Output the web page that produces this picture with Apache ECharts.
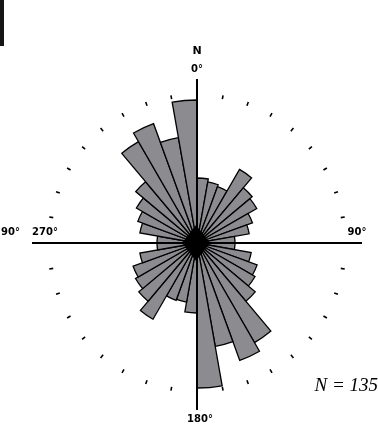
<!DOCTYPE html>
<html><head><meta charset="utf-8">
<script src="https://cdn.jsdelivr.net/npm/echarts@6/dist/echarts.min.js"></script>
<style>html,body{margin:0;padding:0;background:#fff}#c{width:378px;height:439px}</style>
</head><body><div id="c"></div>
<script>
// 10-degree bins (start azimuth, degrees clockwise from N)
const binStarts = ['0','10','20','30','40','50','60','70','80','90','100','110','120','130','140','150','160','170',
  '180','190','200','210','220','230','240','250','260','270','280','290','300','310','320','330','340','350'];
// petal lengths (same units as the outer ring = 150)
const petalLengths = [65,62,60,85,72,69,59,53,38,38,55,64,67,76,115,125,105,145,
  70,60,61,88,76,71,68,58,40,40,58,63,70,80,117,127,107,143];
const cardinalLabels = ['N','0°','270°','90°','90°','180°'];
const sampleLabel = 'N = 135';

const cx = 197, cy = 243;
const chart = echarts.init(document.getElementById('c'), null, {renderer:'canvas'});
chart.setOption({
  animation:false,
  backgroundColor:'#fff',
  polar:{center:[cx,cy], radius:150},
  angleAxis:{type:'category', data:binStarts, startAngle:90, clockwise:true, boundaryGap:true,
    axisLine:{show:false}, axisLabel:{show:false}, splitLine:{show:false},
    axisTick:{show:true, inside:true, length:4, interval:0, lineStyle:{color:'#000', width:1.6}}},
  radiusAxis:{type:'value', min:0, max:150, show:false, axisLine:{show:false}, axisLabel:{show:false}, splitLine:{show:false}, axisTick:{show:false}},
  series:[{type:'bar', coordinateSystem:'polar', data:petalLengths, barCategoryGap:'0%', barGap:'0%',
    itemStyle:{color:'#8c8c90', borderColor:'#000', borderWidth:1.3}, z:2}],
  graphic:[
    {type:'rect', shape:{x:0,y:0,width:4,height:46}, style:{fill:'#151515'}},
    {type:'line', shape:{x1:cx,y1:79,x2:cx,y2:410}, style:{stroke:'#000', lineWidth:2}, z:10},
    {type:'line', shape:{x1:32,y1:cy,x2:362,y2:cy}, style:{stroke:'#000', lineWidth:2}, z:10},
    {type:'polygon', shape:{points:[[196,225],[210,243],[196,261],[182,243]]}, style:{fill:'#000'}, z:11},
    {type:'text', x:cx, y:51, style:{text:cardinalLabels[0], font:'bold 11px "DejaVu Sans"', fill:'#000', align:'center', verticalAlign:'middle'}},
    {type:'text', x:cx, y:69, style:{text:cardinalLabels[1], font:'bold 10px "DejaVu Sans"', fill:'#000', align:'center', verticalAlign:'middle'}},
    {type:'text', x:45, y:232, style:{text:cardinalLabels[2], font:'bold 10px "DejaVu Sans"', fill:'#000', align:'center', verticalAlign:'middle'}},
    {type:'text', x:20, y:232, style:{text:cardinalLabels[3], font:'bold 10px "DejaVu Sans"', fill:'#000', align:'right', verticalAlign:'middle'}},
    {type:'text', x:357, y:232, style:{text:cardinalLabels[4], font:'bold 10px "DejaVu Sans"', fill:'#000', align:'center', verticalAlign:'middle'}},
    {type:'text', x:200, y:419, style:{text:cardinalLabels[5], font:'bold 10px "DejaVu Sans"', fill:'#000', align:'center', verticalAlign:'middle'}},
    {type:'text', x:378, y:386, style:{text:sampleLabel, font:'italic 19px "Liberation Serif"', fill:'#000', align:'right', verticalAlign:'middle'}}
  ]
});
</script></body></html>
